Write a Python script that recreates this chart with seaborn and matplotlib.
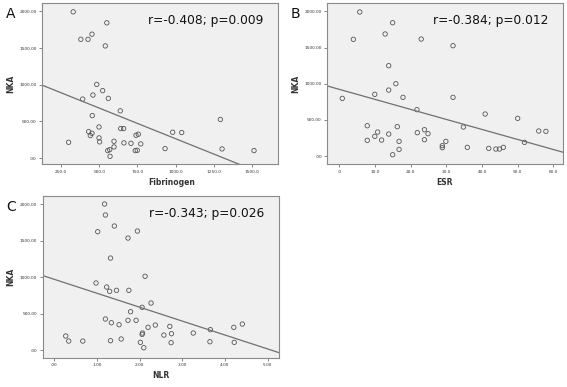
import matplotlib
matplotlib.use("Agg")
import matplotlib.pyplot as plt
import seaborn as sns

# NKA vs fibrinogen (panel A)
fib = [330, 550, 380, 427, 453, 540, 484, 523, 459, 560, 392, 455, 638, 499,
       641, 660, 431, 453, 442, 499, 503, 300, 597, 662, 708, 741, 756, 772,
       556, 569, 597, 736, 749, 571, 981, 1040, 931, 1293, 1304, 1513]
nka_a = [1995, 1845, 1620, 1620, 1690, 1530, 1005, 920, 860, 815, 805, 580, 645, 425,
         403, 403, 362, 339, 308, 276, 222, 216, 230, 208, 202, 312, 326, 194,
         103, 116, 153, 103, 107, 25, 353, 349, 130, 527, 126, 103]

# NKA vs ESR (panel B)
esr = [5.8, 15.0, 12.9, 4.0, 23.0, 31.9, 13.9, 15.9, 13.9, 10.0, 17.9, 0.9, 31.9, 21.8,
       40.9, 50.0, 7.9, 16.3, 34.8, 10.8, 23.9, 21.9, 24.9, 13.9, 10.0, 7.9, 11.9, 23.9,
       16.8, 29.9, 28.9, 28.9, 16.8, 35.9, 41.9, 43.9, 44.9, 46.0, 51.9, 55.9, 57.9, 15.0]
nka_b = [1991, 1843, 1687, 1613, 1617, 1525, 1249, 1000, 912, 853, 811, 797, 811, 641,
         581, 521, 419, 406, 401, 332, 364, 323, 309, 304, 272, 217, 221, 226,
         203, 203, 143, 115, 92, 120, 106, 97, 97, 120, 189, 346, 341, 18]

# NKA vs NLR (panel C)
nlr = [1.18, 1.20, 1.41, 1.02, 1.95, 1.73, 1.32, 2.13, 0.98, 1.23, 1.30, 1.46, 1.75, 2.27,
       2.06, 1.79, 1.20, 1.34, 1.52, 1.73, 1.92, 2.20, 2.37, 0.27, 0.34, 0.67, 1.32, 1.57,
       2.07, 2.06, 2.02, 2.10, 2.71, 2.57, 2.75, 2.74, 3.26, 3.66, 3.65, 4.21, 4.41, 4.22]
nka_c = [2000, 1850, 1699, 1621, 1630, 1534, 1260, 1010, 918, 863, 804, 818, 818, 644,
         585, 525, 425, 374, 347, 407, 407, 311, 342, 192, 123, 123, 128, 151,
         233, 215, 105, 32, 324, 205, 224, 101, 233, 279, 114, 311, 356, 105]

y_ticks = [0, 500, 1000, 1500, 2000]
y_ticklabels = [".00", "500.00", "1000.00", "1500.00", "2000.00"]

panels = [
    dict(x=fib, y=nka_a, letter="A", xlabel="Fibrinogen", stat="r=-0.408; p=0.009",
         xticks=[250, 500, 750, 1000, 1250, 1500],
         xticklabels=["250.0", "500.0", "750.0", "1000.0", "1250.0", "1500.0"],
         xlim=(126, 1670), ylim=(-80, 2115), xlabel_x=0.55,
         rect=[0.0741, 0.5762, 0.4162, 0.416]),
    dict(x=esr, y=nka_b, letter="B", xlabel="ESR", stat="r=-0.384; p=0.012",
         xticks=[0, 10, 20, 30, 40, 50, 60],
         xticklabels=[".0", "10.0", "20.0", "30.0", "40.0", "50.0", "60.0"],
         xlim=(-3.3, 62.6), ylim=(-110, 2115), xlabel_x=0.5,
         rect=[0.5772, 0.5762, 0.4152, 0.416]),
    dict(x=nlr, y=nka_c, letter="C", xlabel="NLR", stat="r=-0.343; p=0.026",
         xticks=[0, 1, 2, 3, 4, 5],
         xticklabels=[".00", "1.00", "2.00", "3.00", "4.00", "5.00"],
         xlim=(-0.27, 5.27), ylim=(-105, 2110), xlabel_x=0.5,
         rect=[0.0753, 0.0757, 0.4168, 0.4178]),
]

fig = plt.figure(figsize=(5.67, 3.87), dpi=100)
fig.patch.set_facecolor("white")

for p in panels:
    ax = fig.add_axes(p["rect"])
    ax.set_facecolor("#f0f0f0")
    ax.set_xlim(p["xlim"])
    sns.regplot(x=p["x"], y=p["y"], ax=ax, ci=None, truncate=False,
                scatter_kws=dict(s=10, color="#555555", facecolor="none",
                                 linewidths=0.6, alpha=1),
                line_kws=dict(color="#707070", lw=0.9))
    ax.set_xlim(p["xlim"])
    ax.set_ylim(p["ylim"])
    ax.set_xticks(p["xticks"])
    ax.set_xticklabels(p["xticklabels"])
    ax.set_yticks(y_ticks)
    ax.set_yticklabels(y_ticklabels)
    ax.tick_params(length=2.5, width=0.5, color="#555555", labelsize=3.1,
                   labelcolor="#333333", pad=1.5)
    for s in ax.spines.values():
        s.set_color("#8a8a8a")
        s.set_linewidth(0.8)
    ax.set_xlabel(p["xlabel"], fontsize=5.5, fontweight="bold", color="#333333")
    ax.set_ylabel("NKA", fontsize=5.5, fontweight="bold", color="#333333")
    ax.xaxis.set_label_coords(p["xlabel_x"], -0.085)
    ax.yaxis.set_label_coords(-0.115, 0.5)
    ax.text(0.45, 0.89, p["stat"], transform=ax.transAxes, ha="left", va="center",
            fontsize=8.8, color="#111111")
    ax.text(-0.135, 0.93, p["letter"], transform=ax.transAxes, ha="center",
            va="center", fontsize=10, color="#111111")

fig.savefig("out.png", dpi=100)
